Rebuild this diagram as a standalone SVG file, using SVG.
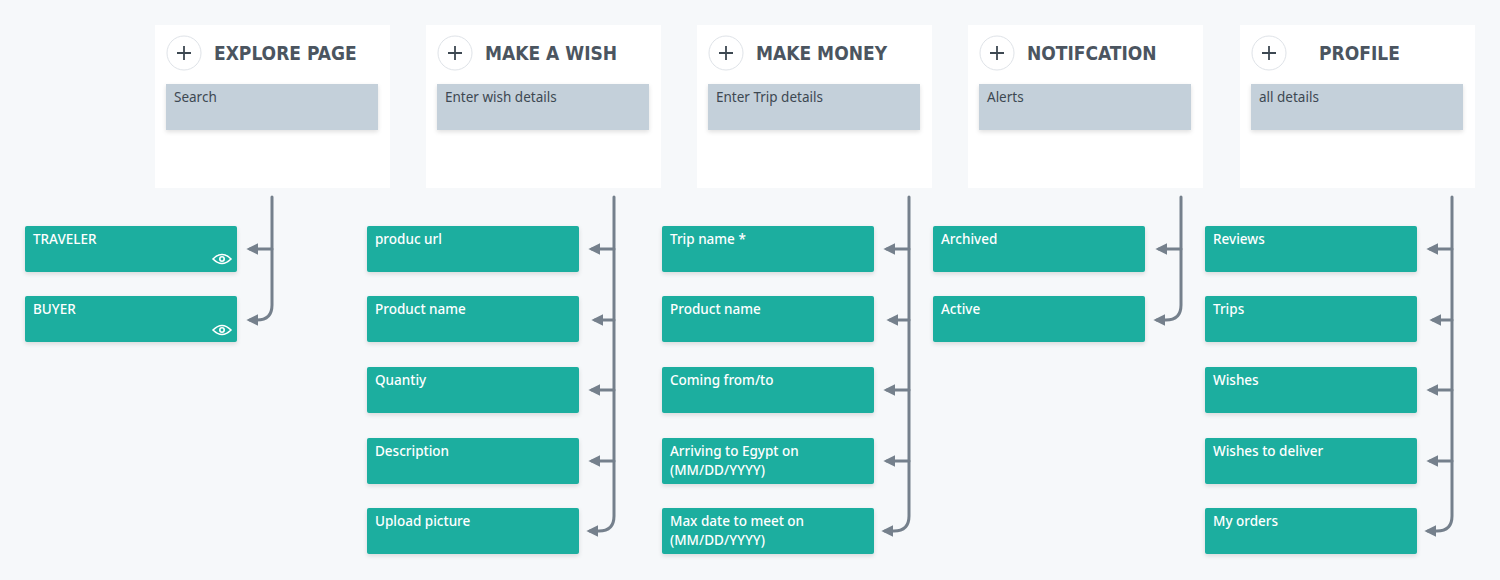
<svg xmlns="http://www.w3.org/2000/svg" width="1500" height="580" viewBox="0 0 1500 580">
<defs>
<style>
.card{fill:#fff}
.in{fill:#c4d0da}
.pc{fill:#fff;stroke:#dfe3e8;stroke-width:1}
.pl{stroke:#3d4852;stroke-width:1.8}
.tt{font-family:"DejaVu Sans Condensed","DejaVu Sans",sans-serif;font-weight:bold;font-size:19px;fill:#4b5560}
.it{font-family:"Noto Sans","DejaVu Sans",sans-serif;font-size:13.5px;fill:#3d4852}
.leaf{fill:#1aae9f}
.lt{font-family:"Noto Sans","DejaVu Sans",sans-serif;font-size:13.5px;fill:#fff;font-weight:500}
.ln{fill:none;stroke:#75808c;stroke-width:3;stroke-linecap:round}
</style>
<filter id="sh" x="-10%" y="-20%" width="120%" height="150%"><feDropShadow dx="0" dy="2" stdDeviation="2" flood-color="#000" flood-opacity="0.12"/></filter>
<marker id="ah" viewBox="0 0 10 10" refX="7" refY="5" markerWidth="4" markerHeight="4" orient="auto"><path d="M0,0 L10,5 L0,10 z" fill="#75808c"/></marker>
</defs>
<rect width="1500" height="580" fill="#f6f8fa"/>
<g id="h-explore"><rect class="card" x="155" y="25" width="235" height="163"/><circle class="pc" cx="184" cy="53" r="17"/><path class="pl" d="M177,53h14M184,46v14"/><text class="tt" x="214" y="60">EXPLORE PAGE</text><rect class="in" x="166" y="84" width="212" height="46" filter="url(#sh)"/><text class="it" x="174" y="102">Search</text></g>
<g id="h-wish"><rect class="card" x="426" y="25" width="235" height="163"/><circle class="pc" cx="455" cy="53" r="17"/><path class="pl" d="M448,53h14M455,46v14"/><text class="tt" x="485" y="60">MAKE A WISH</text><rect class="in" x="437" y="84" width="212" height="46" filter="url(#sh)"/><text class="it" x="445" y="102">Enter wish details</text></g>
<g id="h-money"><rect class="card" x="697" y="25" width="235" height="163"/><circle class="pc" cx="726" cy="53" r="17"/><path class="pl" d="M719,53h14M726,46v14"/><text class="tt" x="756" y="60">MAKE MONEY</text><rect class="in" x="708" y="84" width="212" height="46" filter="url(#sh)"/><text class="it" x="716" y="102">Enter Trip details</text></g>
<g id="h-notif"><rect class="card" x="968" y="25" width="235" height="163"/><circle class="pc" cx="997" cy="53" r="17"/><path class="pl" d="M990,53h14M997,46v14"/><text class="tt" x="1027" y="60">NOTIFCATION</text><rect class="in" x="979" y="84" width="212" height="46" filter="url(#sh)"/><text class="it" x="987" y="102">Alerts</text></g>
<g id="h-profile"><rect class="card" x="1240" y="25" width="235" height="163"/><circle class="pc" cx="1269" cy="53" r="17"/><path class="pl" d="M1262,53h14M1269,46v14"/><text class="tt" x="1319" y="60">PROFILE</text><rect class="in" x="1251" y="84" width="212" height="46" filter="url(#sh)"/><text class="it" x="1259" y="102">all details</text></g>

<g id="connectors">
<path class="ln" d="M272,197V305q0,15 -15,15H250" marker-end="url(#ah)"/>
<path class="ln" d="M272,249H250" marker-end="url(#ah)"/>
<path class="ln" d="M614,197V516q0,15 -15,15H590" marker-end="url(#ah)"/>
<path class="ln" d="M614,249H592" marker-end="url(#ah)"/><path class="ln" d="M614,320H595" marker-end="url(#ah)"/><path class="ln" d="M614,390H592" marker-end="url(#ah)"/><path class="ln" d="M614,461H592" marker-end="url(#ah)"/>
<path class="ln" d="M909,197V516q0,15 -15,15H885" marker-end="url(#ah)"/>
<path class="ln" d="M909,249H887" marker-end="url(#ah)"/><path class="ln" d="M909,320H890" marker-end="url(#ah)"/><path class="ln" d="M909,390H887" marker-end="url(#ah)"/><path class="ln" d="M909,461H887" marker-end="url(#ah)"/>
<path class="ln" d="M1181,197V305q0,15 -15,15H1157" marker-end="url(#ah)"/>
<path class="ln" d="M1181,249H1159" marker-end="url(#ah)"/>
<path class="ln" d="M1452,197V516q0,15 -15,15H1428" marker-end="url(#ah)"/>
<path class="ln" d="M1452,249H1430" marker-end="url(#ah)"/><path class="ln" d="M1452,320H1433" marker-end="url(#ah)"/><path class="ln" d="M1452,390H1430" marker-end="url(#ah)"/><path class="ln" d="M1452,461H1430" marker-end="url(#ah)"/>
</g>

<g id="n-traveler"><rect class="leaf" x="25" y="226" width="212" height="46" rx="2" filter="url(#sh)"/><text class="lt" x="33" y="244">TRAVELER</text><g fill="none" stroke="#fff" stroke-width="1.6"><path d="M213,259q9,-9 18,0q-9,9 -18,0z"/><circle cx="222" cy="259" r="2.2"/></g></g>
<g id="n-buyer"><rect class="leaf" x="25" y="296" width="212" height="46" rx="2" filter="url(#sh)"/><text class="lt" x="33" y="314">BUYER</text><g fill="none" stroke="#fff" stroke-width="1.6"><path d="M213,330q9,-9 18,0q-9,9 -18,0z"/><circle cx="222" cy="330" r="2.2"/></g></g>

<g id="n-w1"><rect class="leaf" x="367" y="226" width="212" height="46" rx="2" filter="url(#sh)"/><text class="lt" x="375" y="244">produc url</text></g>
<g id="n-w2"><rect class="leaf" x="367" y="296" width="212" height="46" rx="2" filter="url(#sh)"/><text class="lt" x="375" y="314">Product name</text></g>
<g id="n-w3"><rect class="leaf" x="367" y="367" width="212" height="46" rx="2" filter="url(#sh)"/><text class="lt" x="375" y="385">Quantiy</text></g>
<g id="n-w4"><rect class="leaf" x="367" y="438" width="212" height="46" rx="2" filter="url(#sh)"/><text class="lt" x="375" y="456">Description</text></g>
<g id="n-w5"><rect class="leaf" x="367" y="508" width="212" height="46" rx="2" filter="url(#sh)"/><text class="lt" x="375" y="526">Upload picture</text></g>

<g id="n-m1"><rect class="leaf" x="662" y="226" width="212" height="46" rx="2" filter="url(#sh)"/><text class="lt" x="670" y="244">Trip name *</text></g>
<g id="n-m2"><rect class="leaf" x="662" y="296" width="212" height="46" rx="2" filter="url(#sh)"/><text class="lt" x="670" y="314">Product name</text></g>
<g id="n-m3"><rect class="leaf" x="662" y="367" width="212" height="46" rx="2" filter="url(#sh)"/><text class="lt" x="670" y="385">Coming from/to</text></g>
<g id="n-m4"><rect class="leaf" x="662" y="438" width="212" height="46" rx="2" filter="url(#sh)"/><text class="lt" x="670" y="456">Arriving to Egypt on</text><text class="lt" x="670" y="475">(MM/DD/YYYY)</text></g>
<g id="n-m5"><rect class="leaf" x="662" y="508" width="212" height="46" rx="2" filter="url(#sh)"/><text class="lt" x="670" y="526">Max date to meet on</text><text class="lt" x="670" y="545">(MM/DD/YYYY)</text></g>

<g id="n-n1"><rect class="leaf" x="933" y="226" width="212" height="46" rx="2" filter="url(#sh)"/><text class="lt" x="941" y="244">Archived</text></g>
<g id="n-n2"><rect class="leaf" x="933" y="296" width="212" height="46" rx="2" filter="url(#sh)"/><text class="lt" x="941" y="314">Active</text></g>

<g id="n-p1"><rect class="leaf" x="1205" y="226" width="212" height="46" rx="2" filter="url(#sh)"/><text class="lt" x="1213" y="244">Reviews</text></g>
<g id="n-p2"><rect class="leaf" x="1205" y="296" width="212" height="46" rx="2" filter="url(#sh)"/><text class="lt" x="1213" y="314">Trips</text></g>
<g id="n-p3"><rect class="leaf" x="1205" y="367" width="212" height="46" rx="2" filter="url(#sh)"/><text class="lt" x="1213" y="385">Wishes</text></g>
<g id="n-p4"><rect class="leaf" x="1205" y="438" width="212" height="46" rx="2" filter="url(#sh)"/><text class="lt" x="1213" y="456">Wishes to deliver</text></g>
<g id="n-p5"><rect class="leaf" x="1205" y="508" width="212" height="46" rx="2" filter="url(#sh)"/><text class="lt" x="1213" y="526">My orders</text></g>
</svg>
